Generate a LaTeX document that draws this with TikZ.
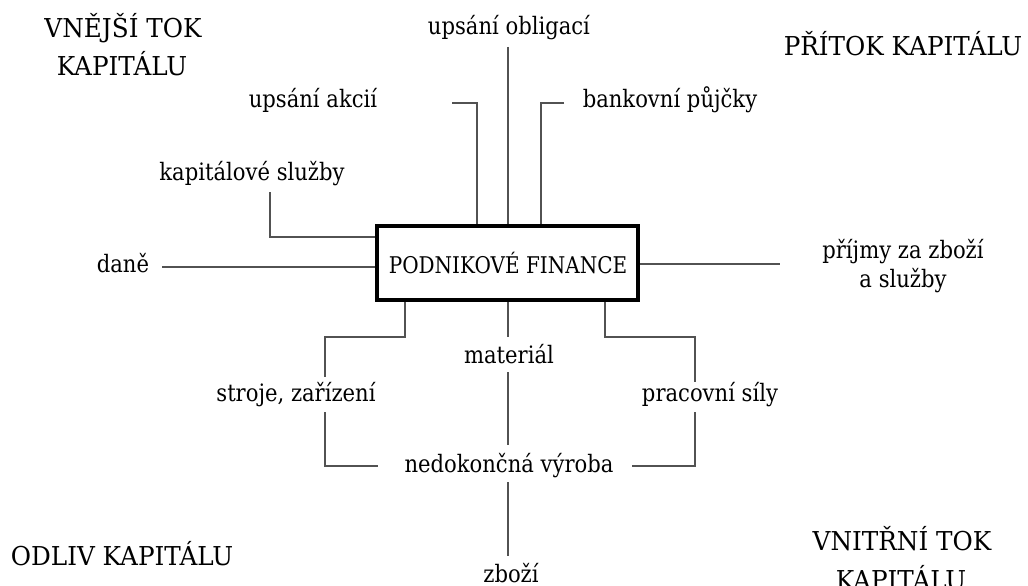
\documentclass[tikz,border=0pt]{standalone}
\usepackage{fontspec}
\setmainfont{DejaVu Serif}
\newfontfamily\flbl{DejaVu Serif}[FakeStretch=0.88]
\newfontfamily\fmainbox{DejaVu Serif}[FakeStretch=0.87]
\newfontfamily\fcorner{DejaVu Serif}[FakeStretch=0.95]
\begin{document}
\begin{tikzpicture}[x=1pt,y=-1pt,
  conn/.style={draw=black!68,line width=2pt},
  lbl/.style={inner sep=0pt,anchor=base,font=\flbl\fontsize{24}{30}\selectfont},
  corner/.style={inner sep=0pt,anchor=base,font=\fcorner\fontsize{26}{36}\selectfont},
  mainbox/.style={draw=black,line width=3.5pt,fill=white,minimum width=261pt,minimum height=74pt,inner sep=0pt}]
\useasboundingbox (0,0) rectangle (1028,586);
% corner labels
\node[corner] (vnejsiA) at (123,38) {VNĚJŠÍ TOK};
\node[corner] (vnejsiB) at (122,75) {KAPITÁLU};
\node[corner] (pritok) at (903,56) {PŘÍTOK KAPITÁLU};
\node[corner] (odliv) at (122,565) {ODLIV KAPITÁLU};
\node[corner] (vnitrniA) at (902,550) {VNITŘNÍ TOK};
\node[corner] (vnitrniB) at (901,589) {KAPITÁLU};
% labels
\node[lbl] (obl) at (509,35) {upsání obligací};
\node[lbl] (akc) at (313,107) {upsání akcií};
\node[lbl] (bank) at (670,107) {bankovní půjčky};
\node[lbl] (kaps) at (252,180) {kapitálové služby};
\node[lbl] (dane) at (123,272) {daně};
\node[lbl] (prijA) at (903,258) {příjmy za zboží};
\node[lbl] (prijB) at (903,287) {a služby};
\node[lbl] (stroje) at (296,401) {stroje, zařízení};
\node[lbl] (mat) at (509,363) {materiál};
\node[lbl] (prac) at (710,401) {pracovní síly};
\node[lbl] (ned) at (509,472) {nedokončná výroba};
\node[lbl] (zbozi) at (511,582) {zboží};
% coordinates
\coordinate (oblT) at (508,47);
\coordinate (oblB) at (508,226);
\coordinate (akcL) at (452,103);
\coordinate (akcB) at (477,226);
\coordinate (bankR) at (564,103);
\coordinate (bankB) at (541,226);
\coordinate (kapT) at (270,192);
\coordinate (kapE) at (377,237);
\coordinate (daneL) at (162,267);
\coordinate (daneE) at (377,267);
\coordinate (prijS) at (638,264);
\coordinate (prijE) at (780,264);
\coordinate (sTop) at (405,300);
\coordinate (sBend) at (325,337);
\coordinate (sMid) at (325,377);
\coordinate (sLow) at (325,412);
\coordinate (sEnd) at (378,466);
\coordinate (mTop) at (508,300);
\coordinate (mA) at (508,337);
\coordinate (mB) at (508,372);
\coordinate (mC) at (508,445);
\coordinate (mD) at (508,482);
\coordinate (mE) at (508,556);
\coordinate (pTop) at (605,300);
\coordinate (pBend) at (695,337);
\coordinate (pMid) at (695,382);
\coordinate (pLow) at (695,412);
\coordinate (pEnd) at (632,466);
% connectors
\draw[conn] (oblT) -- (oblB);
\draw[conn] (akcL) -| (akcB);
\draw[conn] (bankR) -| (bankB);
\draw[conn] (kapT) |- (kapE);
\draw[conn] (daneL) -- (daneE);
\draw[conn] (prijS) -- (prijE);
\draw[conn] (sTop) |- (sBend) -- (sMid);
\draw[conn] (sLow) |- (sEnd);
\draw[conn] (mTop) -- (mA);
\draw[conn] (mB) -- (mC);
\draw[conn] (mD) -- (mE);
\draw[conn] (pTop) |- (pBend) -- (pMid);
\draw[conn] (pLow) |- (pEnd);
% main box
\node[mainbox] (box) at (507.5,263) {};
\node[inner sep=0pt,anchor=base,font=\fmainbox\fontsize{23}{28}\selectfont] (boxtext) at (508,273) {PODNIKOVÉ FINANCE};
\end{tikzpicture}
\end{document}
